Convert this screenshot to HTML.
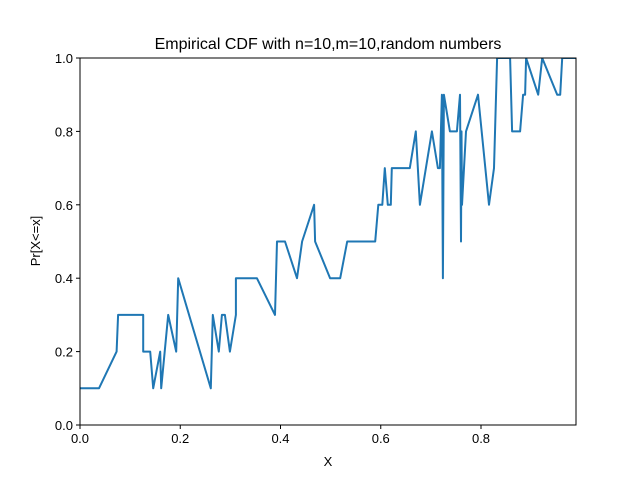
<!DOCTYPE html>
<html><head><meta charset="utf-8">
<style>
body{margin:0;background:#fff;}
svg{display:block;font-family:"Liberation Sans","DejaVu Sans",sans-serif;}
</style></head>
<body>
<svg id="chart" width="640" height="478" viewBox="0 0 640 478">
  <defs><clipPath id="plotclip"><rect x="80" y="58" width="496" height="367"/></clipPath></defs>
  <text x="328" y="49" font-size="16" text-anchor="middle">Empirical CDF with n=10,m=10,random numbers</text>
  <g id="ticks"></g>
  <polyline id="series" clip-path="url(#plotclip)" fill="none" stroke="#1f77b4" stroke-width="2" stroke-linejoin="round"/>
  <rect x="80" y="58" width="496" height="367" fill="none" stroke="#000" stroke-width="1"/>
  <text x="328" y="466" font-size="13" text-anchor="middle">X</text>
  <text transform="translate(40,241) rotate(-90)" font-size="13" text-anchor="middle">Pr[X&lt;=x]</text>
</svg>
<script>
const xValues = [0,0.038,0.073,0.076,0.126,0.126,0.140,0.146,0.160,0.162,0.176,0.192,0.196,0.261,0.265,0.277,0.283,0.289,0.299,0.311,0.311,0.353,0.389,0.393,0.409,0.433,0.443,0.467,0.469,0.499,0.519,0.533,0.589,0.595,0.603,0.608,0.614,0.620,0.622,0.658,0.670,0.678,0.702,0.714,0.718,0.722,0.724,0.726,0.738,0.752,0.758,0.760,0.761,0.762,0.770,0.794,0.816,0.826,0.832,0.858,0.862,0.878,0.884,0.888,0.890,0.914,0.922,0.952,0.958,0.962,0.992];
const yValues = [0.1,0.1,0.2,0.3,0.3,0.2,0.2,0.1,0.2,0.1,0.3,0.2,0.4,0.1,0.3,0.2,0.3,0.3,0.2,0.3,0.4,0.4,0.3,0.5,0.5,0.4,0.5,0.6,0.5,0.4,0.4,0.5,0.5,0.6,0.6,0.7,0.6,0.6,0.7,0.7,0.8,0.6,0.8,0.7,0.7,0.9,0.4,0.9,0.8,0.8,0.9,0.5,0.8,0.6,0.8,0.9,0.6,0.7,1.0,1.0,0.8,0.8,0.9,0.9,1.0,0.9,1.0,0.9,0.9,1.0,1.0];
const xTicks = [0,0.2,0.4,0.6,0.8];
const xTickLabels = ["0.0","0.2","0.4","0.6","0.8"];
const yTicks = [0,0.2,0.4,0.6,0.8,1.0];
const yTickLabels = ["0.0","0.2","0.4","0.6","0.8","1.0"];

const X0=80, X1=576, Y0=425, Y1=58, XMAX=0.9895;
function sx(v){return X0+v/XMAX*(X1-X0);}
function sy(v){return Y0-v*(Y0-Y1);}
const NS="http://www.w3.org/2000/svg";
const g=document.getElementById('ticks');
xTicks.forEach((t,i)=>{
  const l=document.createElementNS(NS,'line');
  l.setAttribute('x1',sx(t));l.setAttribute('x2',sx(t));l.setAttribute('y1',Y0);l.setAttribute('y2',Y0+4);l.setAttribute('stroke','#000');
  
  
  g.appendChild(l);
  const tx=document.createElementNS(NS,'text');
  tx.setAttribute('x',sx(t));tx.setAttribute('y',Y0+18);tx.setAttribute('font-size','13');tx.setAttribute('text-anchor','middle');
  tx.textContent=xTickLabels[i];
  
  
  g.appendChild(tx);
});
yTicks.forEach((t,i)=>{
  const l=document.createElementNS(NS,'line');
  l.setAttribute('x1',X0-4);l.setAttribute('x2',X0);l.setAttribute('y1',sy(t));l.setAttribute('y2',sy(t));l.setAttribute('stroke','#000');
  
  
  g.appendChild(l);
  const tx=document.createElementNS(NS,'text');
  tx.setAttribute('x',X0-7);tx.setAttribute('y',sy(t)+5);tx.setAttribute('font-size','13');tx.setAttribute('text-anchor','end');
  tx.textContent=yTickLabels[i];
  
  
  g.appendChild(tx);
});
document.getElementById('series').setAttribute('points',xValues.map((x,i)=>sx(x).toFixed(1)+','+sy(yValues[i]).toFixed(1)).join(' '));
</script>
</body></html>
